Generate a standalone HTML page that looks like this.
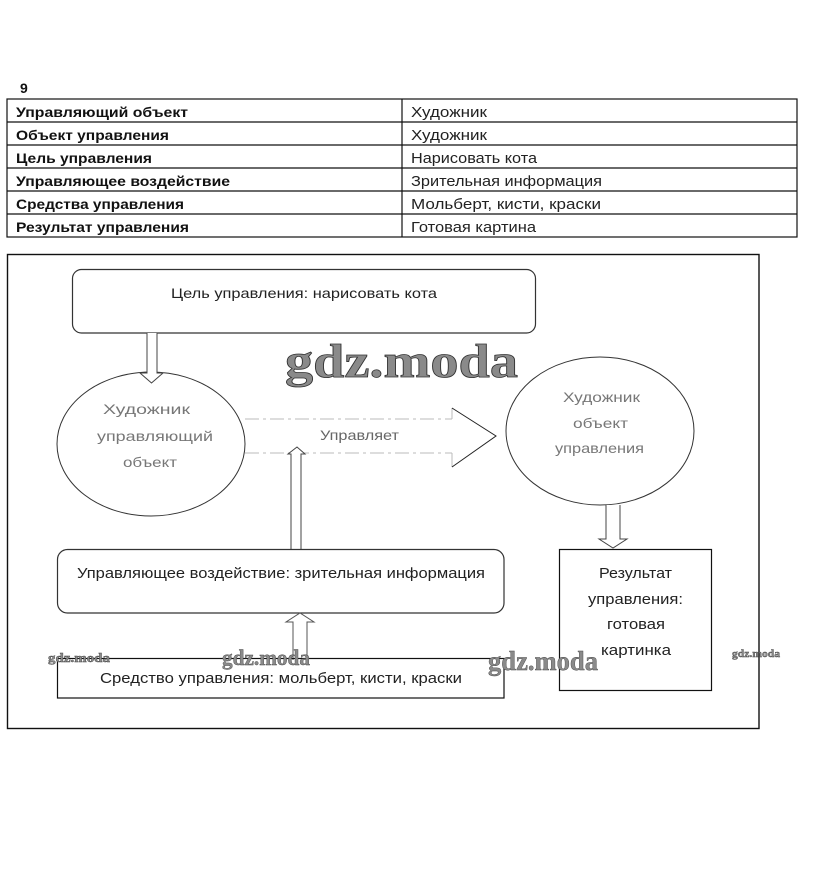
<!DOCTYPE html>
<html><head><meta charset="utf-8"><style>
html,body{margin:0;padding:0;background:#fff;}
svg{display:block;}
text{font-family:"Liberation Sans",sans-serif;}
text.wm{font-family:"Liberation Serif",serif;font-weight:bold;}
</style></head><body>
<svg width="825" height="873" viewBox="0 0 825 873" xmlns="http://www.w3.org/2000/svg">
<rect width="825" height="873" fill="#fff"/>
<!-- header number -->
<text x="20" y="93" font-size="14" font-weight="bold" fill="#111">9</text>
<!-- table -->
<g stroke="#111" stroke-width="1.2" fill="none">
<rect x="7" y="99" width="790" height="138"/>
<line x1="402" y1="99" x2="402" y2="237"/>
<line x1="7" y1="122" x2="797" y2="122"/>
<line x1="7" y1="145" x2="797" y2="145"/>
<line x1="7" y1="168" x2="797" y2="168"/>
<line x1="7" y1="191" x2="797" y2="191"/>
<line x1="7" y1="214" x2="797" y2="214"/>
</g>
<g font-size="14" font-weight="bold" fill="#111">
<text x="16" y="117" textLength="172" lengthAdjust="spacingAndGlyphs">Управляющий объект</text>
<text x="16" y="140" textLength="153" lengthAdjust="spacingAndGlyphs">Объект управления</text>
<text x="16" y="163" textLength="136" lengthAdjust="spacingAndGlyphs">Цель управления</text>
<text x="16" y="186" textLength="214" lengthAdjust="spacingAndGlyphs">Управляющее воздействие</text>
<text x="16" y="209" textLength="168" lengthAdjust="spacingAndGlyphs">Средства управления</text>
<text x="16" y="232" textLength="173" lengthAdjust="spacingAndGlyphs">Результат управления</text>
</g>
<g font-size="15" fill="#222">
<text x="411" y="117" textLength="76" lengthAdjust="spacingAndGlyphs">Художник</text>
<text x="411" y="140" textLength="76" lengthAdjust="spacingAndGlyphs">Художник</text>
<text x="411" y="163" textLength="126" lengthAdjust="spacingAndGlyphs">Нарисовать кота</text>
<text x="411" y="186" textLength="191" lengthAdjust="spacingAndGlyphs">Зрительная информация</text>
<text x="411" y="209" textLength="190" lengthAdjust="spacingAndGlyphs">Мольберт, кисти, краски</text>
<text x="411" y="232" textLength="125" lengthAdjust="spacingAndGlyphs">Готовая картина</text>
</g>

<!-- diagram frame -->
<rect x="7.5" y="254.5" width="751.5" height="474" fill="none" stroke="#111" stroke-width="1.4"/>

<!-- top goal box -->
<rect x="72.5" y="269.5" width="463" height="63.5" rx="9" fill="#fff" stroke="#333" stroke-width="1.2"/>
<text x="171" y="298" font-size="14" fill="#222" textLength="266" lengthAdjust="spacingAndGlyphs">Цель управления: нарисовать кота</text>

<!-- watermark big -->
<text class="wm" x="285" y="377" font-size="48" fill="#8a8a8a" stroke="#333" stroke-width="0.8" textLength="233" lengthAdjust="spacingAndGlyphs">gdz.moda</text>

<!-- left ellipse -->
<ellipse cx="151" cy="444" rx="94" ry="72" fill="#fff" stroke="#333" stroke-width="1"/>
<!-- down arrow from goal box -->
<path d="M147 333 L147 373 L140 373 L151.5 383 L163 373 L157 373 L157 333" fill="#fff" stroke="#444" stroke-width="1"/>
<g font-size="14" fill="#777">
<text x="103" y="414" textLength="87" lengthAdjust="spacingAndGlyphs">Художник</text>
<text x="97" y="441" textLength="116" lengthAdjust="spacingAndGlyphs">управляющий</text>
<text x="123" y="467" textLength="54" lengthAdjust="spacingAndGlyphs">объект</text>
</g>

<!-- big right arrow -->
<g stroke="#bbb" stroke-width="1" stroke-dasharray="14 4 3 4" fill="none">
<line x1="245" y1="419" x2="452" y2="419"/>
<line x1="245" y1="453" x2="452" y2="453"/>
<line x1="452" y1="408" x2="452" y2="419"/>
<line x1="452" y1="453" x2="452" y2="467"/>
</g>
<path d="M452 408 L496 436 L452 467" fill="none" stroke="#222" stroke-width="1"/>
<text x="320" y="440" font-size="14" fill="#666" textLength="79" lengthAdjust="spacingAndGlyphs">Управляет</text>

<!-- up arrow from middle box to big arrow -->
<path d="M291 549 L291 454 L288 454 L297 447 L305 454 L301 454 L301 549" fill="#fff" stroke="#444" stroke-width="1"/>

<!-- right ellipse -->
<ellipse cx="600" cy="431" rx="94" ry="74" fill="#fff" stroke="#333" stroke-width="1"/>
<g font-size="14" fill="#777">
<text x="563" y="402" textLength="77" lengthAdjust="spacingAndGlyphs">Художник</text>
<text x="573" y="428" textLength="55" lengthAdjust="spacingAndGlyphs">объект</text>
<text x="555" y="453" textLength="89" lengthAdjust="spacingAndGlyphs">управления</text>
</g>

<!-- down arrow to result -->
<path d="M606 505 L606 539 L599 539 L613 548 L627 539 L620 539 L620 505" fill="#fff" stroke="#444" stroke-width="1"/>

<!-- result box -->
<rect x="559.5" y="549.5" width="152" height="141" fill="#fff" stroke="#111" stroke-width="1.2"/>
<g font-size="15" fill="#222">
<text x="599" y="578" textLength="73" lengthAdjust="spacingAndGlyphs">Результат</text>
<text x="588" y="604" textLength="95" lengthAdjust="spacingAndGlyphs">управления:</text>
<text x="607" y="629" textLength="58" lengthAdjust="spacingAndGlyphs">готовая</text>
<text x="601" y="655" textLength="70" lengthAdjust="spacingAndGlyphs">картинка</text>
</g>

<!-- middle box -->
<rect x="57.5" y="549.5" width="446.5" height="63.5" rx="10" fill="#fff" stroke="#333" stroke-width="1.2"/>
<text x="77" y="578" font-size="15" fill="#222" textLength="408" lengthAdjust="spacingAndGlyphs">Управляющее воздействие: зрительная информация</text>

<!-- up arrow between bottom and middle box -->
<path d="M293 660 L293 622 L286 622 L300 613 L314 622 L307 622 L307 660" fill="#fff" stroke="#555" stroke-width="1"/>

<!-- bottom box -->
<rect x="57.5" y="658.5" width="446.5" height="39.5" fill="none" stroke="#111" stroke-width="1.2"/>
<text x="100" y="683" font-size="15" fill="#222" textLength="362" lengthAdjust="spacingAndGlyphs">Средство управления: мольберт, кисти, краски</text>

<!-- small watermarks -->
<g fill="#8a8a8a" stroke="#444" stroke-width="0.4">
<text class="wm" x="48" y="662" font-size="13" textLength="62" lengthAdjust="spacingAndGlyphs">gdz.moda</text>
<text class="wm" x="222" y="665" font-size="22" textLength="88" lengthAdjust="spacingAndGlyphs">gdz.moda</text>
<text class="wm" x="488" y="670" font-size="27" textLength="110" lengthAdjust="spacingAndGlyphs">gdz.moda</text>
<text class="wm" x="732" y="657" font-size="11" textLength="48" lengthAdjust="spacingAndGlyphs">gdz.moda</text>
</g>
</svg>
</body></html>
